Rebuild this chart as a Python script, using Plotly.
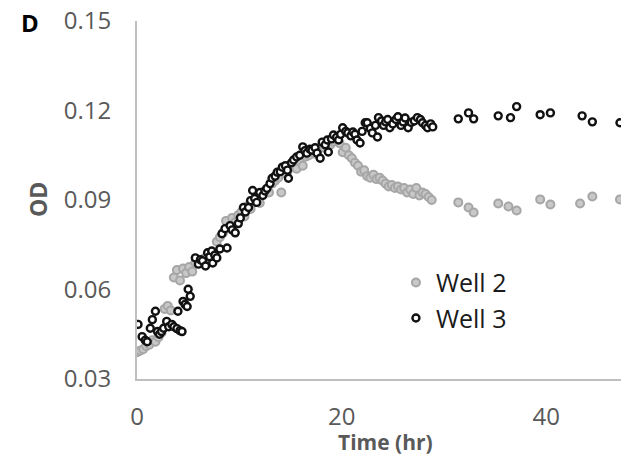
import plotly.graph_objects as go

# ---- Data ----
well2_time = [0.0, 0.3, 0.6, 0.9, 1.2, 1.5, 1.8, 2.1, 2.4, 2.7, 3.0, 3.3, 3.6, 3.9, 4.2, 4.5, 4.8,
              5.1, 5.4, 5.7, 6.0, 6.3, 6.6, 6.9, 7.2, 7.5, 7.8, 8.1, 8.4, 8.7, 9.0, 9.3, 9.6, 9.9,
              10.2, 10.5, 10.8, 11.1, 11.4, 11.7, 12.0, 12.3, 12.6, 12.9, 13.2, 13.5, 13.8, 14.1,
              14.4, 14.7, 15.0, 15.3, 15.6, 15.9, 16.2, 16.5, 16.8, 17.1, 17.4, 17.7, 18.0, 18.3,
              18.6, 18.9, 19.2, 19.5, 19.8, 20.1, 20.4, 20.7, 21.0, 21.3, 21.6, 21.9, 22.2, 22.5,
              22.8, 23.1, 23.4, 23.7, 24.0, 24.3, 24.6, 24.9, 25.2, 25.5, 25.8, 26.1, 26.4, 26.7,
              27.0, 27.3, 27.6, 27.9, 28.2, 28.5, 28.8,
              31.4, 32.4, 32.9, 35.3, 36.3, 37.1, 39.4, 40.4, 43.3, 44.5, 47.2]
well2_od = [0.0390, 0.0395, 0.0400, 0.0410, 0.0415, 0.0430, 0.0425, 0.0440, 0.0455, 0.0535, 0.0545,
            0.0530, 0.0640, 0.0665, 0.0630, 0.0670, 0.0655, 0.0675, 0.0660, 0.0690, 0.0700, 0.0690,
            0.0705, 0.0715, 0.0700, 0.0725, 0.0760, 0.0775, 0.0790, 0.0830, 0.0810, 0.0840, 0.0825,
            0.0850, 0.0860, 0.0845, 0.0880, 0.0870, 0.0895, 0.0905, 0.0890, 0.0920, 0.0935, 0.0925,
            0.0955, 0.0965, 0.0975, 0.0925, 0.0990, 0.0995, 0.1010, 0.1020, 0.1005, 0.1030, 0.1015,
            0.1045, 0.1050, 0.1065, 0.1055, 0.1070, 0.1080, 0.1075, 0.1090, 0.1085, 0.1095, 0.1100,
            0.1090, 0.1060, 0.1075, 0.1050, 0.1040, 0.1025, 0.1015, 0.0995, 0.1000, 0.0980, 0.0975,
            0.0985, 0.0970, 0.0975, 0.0965, 0.0955, 0.0945, 0.0950, 0.0940, 0.0945, 0.0935, 0.0940,
            0.0925, 0.0935, 0.0920, 0.0940, 0.0915, 0.0925, 0.0920, 0.0910, 0.0900,
            0.0892, 0.0875, 0.0858, 0.0888, 0.0878, 0.0865, 0.0902, 0.0885, 0.0888, 0.0912, 0.0902]

well3_time = [0.1, 0.5, 0.8, 1.0, 1.3, 1.5, 1.8, 2.0, 2.2, 2.4, 2.6, 2.9, 3.1, 3.4, 3.6, 3.9, 4.0,
              4.2, 4.4, 4.5, 4.7, 4.9, 5.0, 5.2, 5.7, 6.0, 6.2, 6.4, 6.7, 6.9, 7.1, 7.3, 7.4, 7.6,
              7.8, 8.1, 8.3, 8.6, 8.8, 9.1, 9.3, 9.6, 9.9, 10.1, 10.4, 10.6, 10.9, 11.1, 11.3, 11.5,
              11.7, 12.0, 12.3, 12.5, 12.7, 13.0, 13.2, 13.5, 13.7, 14.0, 14.2, 14.5, 14.7, 14.8,
              15.1, 15.3, 15.6, 15.9, 16.2, 16.4, 16.6, 16.9, 17.1, 17.4, 17.6, 17.9, 18.1, 18.4,
              18.6, 18.7, 19.0, 19.2, 19.5, 19.7, 19.9, 20.1, 20.4, 20.6, 20.9, 21.1, 21.3, 21.5,
              21.8, 22.0, 22.3, 22.5, 22.8, 23.0, 23.3, 23.5, 23.6, 23.9, 24.1, 24.3, 24.5, 24.7,
              25.0, 25.3, 25.5, 25.8, 26.0, 26.2, 26.5, 26.8, 27.1, 27.4, 27.7, 27.9, 28.2, 28.4,
              28.7, 28.9,
              31.4, 32.4, 32.9, 35.3, 36.5, 37.1, 39.4, 40.4, 43.5, 44.5, 47.2]
well3_od = [0.0483, 0.0442, 0.0430, 0.0425, 0.0470, 0.0499, 0.0527, 0.0459, 0.0450, 0.0459, 0.0470,
            0.0493, 0.0475, 0.0483, 0.0475, 0.0469, 0.0527, 0.0462, 0.0459, 0.0560, 0.0550, 0.0543,
            0.0601, 0.0577, 0.0706, 0.0685, 0.0700, 0.0696, 0.0679, 0.0723, 0.0710, 0.0729, 0.0689,
            0.0715, 0.0706, 0.0736, 0.0787, 0.0804, 0.0739, 0.0814, 0.0800, 0.0790, 0.0821, 0.0840,
            0.0875, 0.0860, 0.0875, 0.0898, 0.0932, 0.0905, 0.0892, 0.0925, 0.0915, 0.0930, 0.0939,
            0.0955, 0.0973, 0.0980, 0.0993, 0.0995, 0.1010, 0.1015, 0.1000, 0.0973, 0.1025, 0.1034,
            0.1044, 0.1050, 0.1078, 0.1065, 0.1057, 0.1070, 0.1067, 0.1075, 0.1057, 0.1040, 0.1094,
            0.1085, 0.1101, 0.1061, 0.1105, 0.1118, 0.1110, 0.1101, 0.1120, 0.1142, 0.1130, 0.1125,
            0.1115, 0.1128, 0.1120, 0.1101, 0.1091, 0.1130, 0.1159, 0.1159, 0.1140, 0.1125, 0.1150,
            0.1111, 0.1176, 0.1165, 0.1150, 0.1162, 0.1170, 0.1142, 0.1155, 0.1170, 0.1179, 0.1150,
            0.1162, 0.1175, 0.1142, 0.1160, 0.1165, 0.1176, 0.1170, 0.1159, 0.1150, 0.1142, 0.1155,
            0.1145,
            0.1172, 0.1192, 0.1172, 0.1182, 0.1176, 0.1213, 0.1186, 0.1192, 0.1182, 0.1162, 0.1159]

y_ticks = [0.03, 0.06, 0.09, 0.12, 0.15]
y_tick_labels = ["0.03", "0.06", "0.09", "0.12", "0.15"]
x_ticks = [0, 20, 40]
x_tick_labels = ["0", "20", "40"]

FONT = "Open Sans"

FIG_W, FIG_H = 621, 462
M_L, M_T, M_B = 137, 21, 83
plot_w = FIG_W - M_L
plot_h = FIG_H - M_T - M_B


def px_to_paper(px, py):
    return (px - M_L) / plot_w, (FIG_H - M_B - py) / plot_h


fig = go.Figure()
fig.add_trace(go.Scatter(
    x=well2_time, y=well2_od, mode="markers", name="Well 2",
    marker=dict(symbol="circle", size=8, color="#C8C8C8",
                line=dict(color="#A6A6A6", width=2)),
    legendgroup="w2",
))
fig.add_trace(go.Scatter(
    x=well3_time, y=well3_od, mode="markers", name="Well 3",
    marker=dict(symbol="circle", size=7, color="white",
                line=dict(color="#111111", width=2.4)),
    legendgroup="w3",
))

ox, oy = px_to_paper(38, 200)
dx, dy = px_to_paper(30, 22)
tx, ty = px_to_paper(385, 442)

fig.update_layout(
    width=FIG_W, height=FIG_H,
    margin=dict(l=M_L, r=0, t=M_T, b=M_B),
    paper_bgcolor="white", plot_bgcolor="white",
    font=dict(family=FONT, color="#595959"),
    showlegend=True,
    legend=dict(x=0.535, y=0.333, xanchor="left", yanchor="top",
                font=dict(family=FONT, size=25, color="#1a1a1a"),
                bgcolor="rgba(0,0,0,0)", tracegroupgap=0),
    xaxis=dict(range=[0, 47.3], tickvals=x_ticks, ticktext=x_tick_labels,
               showgrid=False, zeroline=False, showline=True, linecolor="#BFBFBF",
               linewidth=2, ticks="", ticklabelstandoff=15, ticklabeloverflow="allow",
               tickfont=dict(family=FONT, size=24, color="#595959")),
    yaxis=dict(range=[0.03, 0.15], tickvals=y_ticks, ticktext=y_tick_labels,
               showgrid=False, zeroline=False, showline=True, linecolor="#BFBFBF",
               linewidth=2, ticks="", ticklabelstandoff=19, ticklabeloverflow="allow",
               tickfont=dict(family=FONT, size=24, color="#595959")),
    annotations=[
        dict(text="<b>OD</b>", x=ox, y=oy, xref="paper", yref="paper", showarrow=False,
             xanchor="center", yanchor="middle", textangle=-90,
             font=dict(family=FONT, size=23, color="#595959")),
        dict(text="<b>D</b>", x=dx, y=dy, xref="paper", yref="paper", showarrow=False,
             xanchor="center", yanchor="middle",
             font=dict(family=FONT, size=24, color="#000000")),
        dict(text="<b>Time (hr)</b>", x=tx, y=ty, xref="paper", yref="paper", showarrow=False,
             xanchor="center", yanchor="middle",
             font=dict(family=FONT, size=21, color="#595959")),
    ],
)

# remove the default page margin so the figure fills the window exactly
fig.write_html("out.html",
               config={"displayModeBar": False},
               post_script="document.body.style.margin='0';document.body.style.overflow='hidden';")
